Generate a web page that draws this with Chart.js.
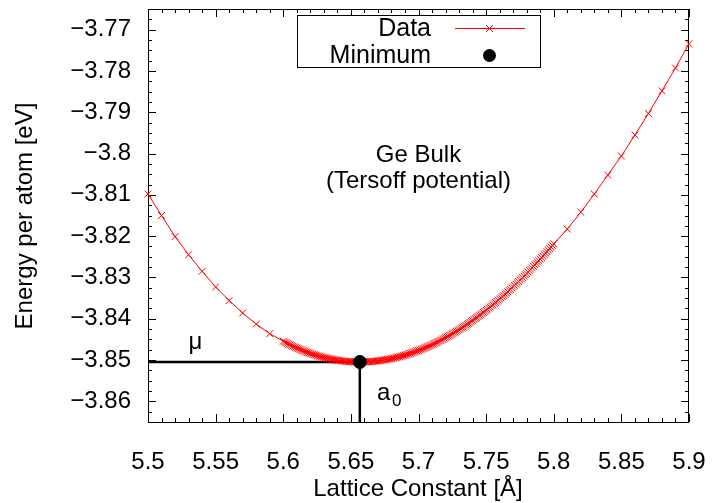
<!DOCTYPE html>
<html>
<head>
<meta charset="utf-8">
<script src="https://cdn.jsdelivr.net/npm/chart.js@4"></script>
<style>
  body { margin: 0; background: #fff; }
  canvas { display: block; }
</style>
</head>
<body>
<canvas id="ge" width="712" height="503"></canvas>
<script>
// lattice constant [A] and energy per atom [eV]
var latticeConst = [
  5.50, 5.51, 5.52, 5.53, 5.54, 5.55, 5.56, 5.57, 5.58, 5.59,
  5.600, 5.602, 5.604, 5.606, 5.608, 5.610, 5.612, 5.614, 5.616, 5.618,
  5.620, 5.622, 5.624, 5.626, 5.628, 5.630, 5.632, 5.634, 5.636, 5.638,
  5.640, 5.642, 5.644, 5.646, 5.648, 5.650, 5.652, 5.654, 5.656, 5.658,
  5.660, 5.662, 5.664, 5.666, 5.668, 5.670, 5.672, 5.674, 5.676, 5.678,
  5.680, 5.682, 5.684, 5.686, 5.688, 5.690, 5.692, 5.694, 5.696, 5.698,
  5.700, 5.702, 5.704, 5.706, 5.708, 5.710, 5.712, 5.714, 5.716, 5.718,
  5.720, 5.722, 5.724, 5.726, 5.728, 5.730, 5.732, 5.734, 5.736, 5.738,
  5.740, 5.742, 5.744, 5.746, 5.748, 5.750, 5.752, 5.754, 5.756, 5.758,
  5.760, 5.762, 5.764, 5.766, 5.768, 5.770, 5.772, 5.774, 5.776, 5.778,
  5.780, 5.782, 5.784, 5.786, 5.788, 5.790, 5.792, 5.794, 5.796, 5.798,
  5.800,
  5.81, 5.82, 5.83, 5.84, 5.85, 5.86, 5.87, 5.88, 5.89, 5.90
];
var energyPerAtom = [
  -3.8098, -3.8150, -3.8201, -3.8245, -3.8285, -3.8323, -3.8356, -3.8386, -3.8413, -3.8436,
  -3.84544, -3.84580, -3.84614, -3.84647, -3.84678, -3.84708, -3.84737, -3.84764, -3.84791, -3.84816,
  -3.84839, -3.84861, -3.84883, -3.84902, -3.84921, -3.84938, -3.84954, -3.84968, -3.84982, -3.84994,
  -3.85005, -3.85014, -3.85023, -3.85030, -3.85036, -3.85040, -3.85044, -3.85046, -3.85047, -3.85047,
  -3.85045, -3.85043, -3.85039, -3.85034, -3.85027, -3.85020, -3.85011, -3.85001, -3.84990, -3.84978,
  -3.84965, -3.84950, -3.84935, -3.84918, -3.84900, -3.84881, -3.84861, -3.84839, -3.84817, -3.84793,
  -3.84768, -3.84742, -3.84715, -3.84687, -3.84658, -3.84628, -3.84596, -3.84564, -3.84530, -3.84495,
  -3.84459, -3.84422, -3.84384, -3.84345, -3.84305, -3.84264, -3.84222, -3.84179, -3.84134, -3.84089,
  -3.84042, -3.83995, -3.83947, -3.83897, -3.83847, -3.83795, -3.83742, -3.83689, -3.83634, -3.83579,
  -3.83522, -3.83464, -3.83406, -3.83346, -3.83286, -3.83224, -3.83162, -3.83098, -3.83034, -3.82969,
  -3.82902, -3.82835, -3.82767, -3.82698, -3.82627, -3.82557, -3.82484, -3.82412, -3.82338, -3.82263,
  -3.82187,
  -3.8183, -3.8142, -3.8098, -3.8052, -3.8006, -3.7955, -3.7903, -3.7848, -3.7793, -3.7734
];
// the fine scan in between (odd thousandths)
var latticeFine = [
  5.601, 5.603, 5.605, 5.607, 5.609, 5.611, 5.613, 5.615, 5.617, 5.619,
  5.621, 5.623, 5.625, 5.627, 5.629, 5.631, 5.633, 5.635, 5.637, 5.639,
  5.641, 5.643, 5.645, 5.647, 5.649, 5.651, 5.653, 5.655, 5.657, 5.659,
  5.661, 5.663, 5.665, 5.667, 5.669, 5.671, 5.673, 5.675, 5.677, 5.679,
  5.681, 5.683, 5.685, 5.687, 5.689, 5.691, 5.693, 5.695, 5.697, 5.699,
  5.701, 5.703, 5.705, 5.707, 5.709, 5.711, 5.713, 5.715, 5.717, 5.719,
  5.721, 5.723, 5.725, 5.727, 5.729, 5.731, 5.733, 5.735, 5.737, 5.739,
  5.741, 5.743, 5.745, 5.747, 5.749, 5.751, 5.753, 5.755, 5.757, 5.759,
  5.761, 5.763, 5.765, 5.767, 5.769, 5.771, 5.773, 5.775, 5.777, 5.779,
  5.781, 5.783, 5.785, 5.787, 5.789, 5.791, 5.793, 5.795, 5.797, 5.799
];
var energyFine = [
  -3.84562, -3.84597, -3.84631, -3.84663, -3.84693, -3.84723, -3.84751, -3.84778, -3.84804, -3.84828,
  -3.84850, -3.84872, -3.84893, -3.84912, -3.84930, -3.84946, -3.84961, -3.84975, -3.84988, -3.85000,
  -3.85010, -3.85019, -3.85027, -3.85033, -3.85038, -3.85042, -3.85045, -3.85047, -3.85047, -3.85046,
  -3.85044, -3.85041, -3.85037, -3.85031, -3.85024, -3.85016, -3.85006, -3.84996, -3.84984, -3.84972,
  -3.84958, -3.84943, -3.84927, -3.84909, -3.84891, -3.84871, -3.84850, -3.84828, -3.84805, -3.84781,
  -3.84755, -3.84729, -3.84701, -3.84673, -3.84643, -3.84612, -3.84580, -3.84547, -3.84513, -3.84477,
  -3.84441, -3.84403, -3.84365, -3.84325, -3.84285, -3.84243, -3.84201, -3.84157, -3.84112, -3.84066,
  -3.84019, -3.83971, -3.83922, -3.83872, -3.83821, -3.83769, -3.83716, -3.83662, -3.83607, -3.83551,
  -3.83493, -3.83435, -3.83376, -3.83316, -3.83255, -3.83193, -3.83130, -3.83066, -3.83002, -3.82936,
  -3.82869, -3.82801, -3.82733, -3.82663, -3.82592, -3.82521, -3.82448, -3.82375, -3.82301, -3.82225
];
var minimumA = [5.6566];
var minimumE = [-3.85047];

var xTicks = [5.5, 5.55, 5.6, 5.65, 5.7, 5.75, 5.8, 5.85, 5.9];
var yTicks = [-3.86, -3.85, -3.84, -3.83, -3.82, -3.81, -3.8, -3.79, -3.78, -3.77];
var xRange = [5.5, 5.9];
var yRange = [-3.865, -3.765];

var FONT = '"Liberation Sans", Arial, Helvetica, sans-serif';

function fmt(v) {
  return String(v).replace('-', '\u2212');
}

var frame = {
  id: 'frame',
  beforeDatasetsDraw(chart) {
    var c = chart.ctx, a = chart.chartArea;
    var xs = chart.scales.x, ys = chart.scales.y;
    c.save();
    c.strokeStyle = '#000';
    c.lineWidth = 1;
    c.strokeRect(a.left + 0.5, a.top + 0.5, a.right - a.left - 1, a.bottom - a.top);
    c.beginPath();
    for (var i = 0; i <= 40; i++) {
      var v = xRange[0] + i * 0.01;
      var px = Math.round(xs.getPixelForValue(v)) + 0.5;
      var len = (i % 5 == 0) ? 8 : 4;
      c.moveTo(px, a.bottom); c.lineTo(px, a.bottom - len);
      c.moveTo(px, a.top); c.lineTo(px, a.top + len);
    }
    for (var j = 0; j <= 40; j++) {
      var w = yRange[0] + j * 0.0025;
      var py = Math.round(ys.getPixelForValue(w)) + 0.5;
      var l2 = (j % 4 == 2) ? 8 : 4;
      c.moveTo(a.left, py); c.lineTo(a.left + l2, py);
      c.moveTo(a.right, py); c.lineTo(a.right - l2, py);
    }
    c.stroke();
    c.restore();
  },
  afterDraw(chart) {
    var c = chart.ctx;
    var xs = chart.scales.x, ys = chart.scales.y;
    c.save();
    c.fillStyle = '#000';
    c.font = '24px ' + FONT;
    c.textBaseline = 'middle';

    c.textAlign = 'right';
    yTicks.forEach(function (v) {
      c.fillText(fmt(v), 131, ys.getPixelForValue(v));
    });
    c.textAlign = 'center';
    xTicks.forEach(function (v) {
      c.fillText(fmt(v), xs.getPixelForValue(v), 462);
    });
    c.fillText('Lattice Constant [\u00c5]', 418, 489);
    c.save();
    c.translate(25, 216);
    c.rotate(-Math.PI / 2);
    c.fillText('Energy per atom [eV]', 0, 0);
    c.restore();

    c.fillText('Ge Bulk', xs.getPixelForValue(5.7), ys.getPixelForValue(-3.8004));
    c.fillText('(Tersoff potential)', xs.getPixelForValue(5.7), ys.getPixelForValue(-3.8067));
    c.fillText('\u03bc', xs.getPixelForValue(5.535), ys.getPixelForValue(-3.8458));
    c.textAlign = 'left';
    c.fillText('a', 377, 393);
    c.font = '17px ' + FONT;
    c.fillText('0', 392, 401);

    // legend box
    c.lineWidth = 1;
    c.strokeStyle = '#000';
    c.fillStyle = '#fff';
    c.fillRect(297.5, 15.5, 243, 52);
    c.strokeRect(297.5, 15.5, 243, 52);
    c.fillStyle = '#000';
    c.font = '25px ' + FONT;
    c.textAlign = 'right';
    c.fillText('Data', 431, 29);
    c.fillText('Minimum', 431, 56);
    c.strokeStyle = '#ff0000';
    c.beginPath();
    c.moveTo(455, 28.5); c.lineTo(525, 28.5);
    c.moveTo(486, 25); c.lineTo(493, 32);
    c.moveTo(486, 32); c.lineTo(493, 25);
    c.stroke();
    c.fillStyle = '#000';
    c.beginPath();
    c.arc(489.5, 55.5, 6.5, 0, Math.PI * 2);
    c.fill();
    c.restore();
  }
};

var points = latticeConst.map(function (a, i) { return { x: a, y: energyPerAtom[i] }; });
latticeFine.forEach(function (a, i) { points.push({ x: a, y: energyFine[i] }); });
points.sort(function (p, q) { return p.x - q.x; });

var ctx = document.getElementById('ge').getContext('2d');
var chart = new Chart(ctx, {
  type: 'scatter',
  data: {
    datasets: [{
      label: 'Minimum',
      data: [{ x: minimumA[0], y: minimumE[0] }],
      pointRadius: 6.5,
      backgroundColor: '#000',
      borderColor: '#000',
      order: 0
    }, {
      label: 'Data',
      data: points,
      showLine: true,
      borderColor: '#ff0000',
      borderWidth: 1,
      pointStyle: 'crossRot',
      pointRadius: 4.8,
      pointBorderColor: '#ff0000',
      pointBorderWidth: 1,
      clip: false,
      order: 1
    }, {
      label: 'mu',
      data: [{ x: xRange[0], y: minimumE[0] }, { x: minimumA[0], y: minimumE[0] }],
      showLine: true,
      borderColor: '#000',
      borderWidth: 2.5,
      pointRadius: 0,
      order: 2
    }, {
      label: 'a0',
      data: [{ x: minimumA[0], y: minimumE[0] }, { x: minimumA[0], y: yRange[0] }],
      showLine: true,
      borderColor: '#000',
      borderWidth: 2.5,
      pointRadius: 0,
      order: 2
    }]
  },
  options: {
    responsive: false,
    animation: false,
    layout: { padding: { top: 9, right: 23, left: 0, bottom: 0 } },
    plugins: { legend: { display: false }, tooltip: { enabled: false } },
    scales: {
      x: {
        type: 'linear', min: xRange[0], max: xRange[1],
        grid: { display: false, drawTicks: false },
        border: { display: false },
        ticks: { display: false },
        afterFit: function (s) { s.height = 81; }
      },
      y: {
        type: 'linear', min: yRange[0], max: yRange[1],
        grid: { display: false, drawTicks: false },
        border: { display: false },
        ticks: { display: false },
        afterFit: function (s) { s.width = 148; }
      }
    }
  },
  plugins: [frame]
});
</script>
</body>
</html>
